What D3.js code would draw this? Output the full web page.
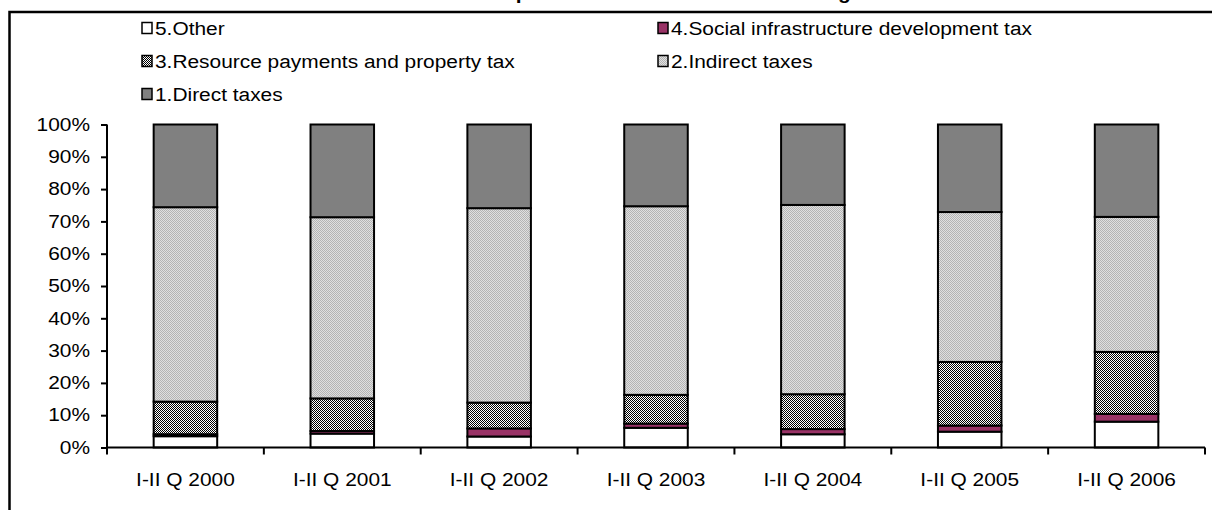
<!DOCTYPE html>
<html>
<head>
<meta charset="utf-8">
<script src="https://cdn.jsdelivr.net/npm/d3@7"></script>
<style>
  html, body { margin: 0; padding: 0; background: #fff; }
  svg { display: block; font-family: "Liberation Sans", Arial, sans-serif; }
</style>
</head>
<body>
<svg id="chart" width="1212" height="510"></svg>
<script>
// Periods on the x axis
const periods = ["I-II Q 2000", "I-II Q 2001", "I-II Q 2002", "I-II Q 2003", "I-II Q 2004", "I-II Q 2005", "I-II Q 2006"];

// Shares of tax revenue by type, percent (stacked bottom to top)
const otherTaxes     = [3.5, 4.3, 3.4, 6.1, 4.1, 4.9, 8.0];
const socialTax      = [0.6, 0.8, 2.5, 1.3, 1.6, 1.9, 2.4];
const resourceTax    = [10.1, 10.1, 8.0, 8.9, 10.8, 19.7, 19.2];
const indirectTaxes  = [60.2, 56.1, 60.2, 58.4, 58.6, 46.4, 41.8];
const directTaxes    = [25.6, 28.7, 25.9, 25.3, 24.9, 27.1, 28.6];

const seriesNames = [
  "5.Other",
  "4.Social infrastructure development tax",
  "3.Resource payments and property tax",
  "2.Indirect taxes",
  "1.Direct taxes"
];
const yTicks = [0, 10, 20, 30, 40, 50, 60, 70, 80, 90, 100];

const FONT_SIZE = 18;
const STRETCH = 1.16; // horizontally widened lettering

// Widen a text selection's glyphs by the STRETCH factor
function widen(sel) {
  sel.each(function () {
    const len = this.getComputedTextLength();
    d3.select(this).attr("textLength", len * STRETCH).attr("lengthAdjust", "spacingAndGlyphs");
  });
}

const svg = d3.select("#chart");

// Fill patterns
const defs = svg.append("defs");
const pRes = defs.append("pattern").attr("id", "pat-resource")
  .attr("patternUnits", "userSpaceOnUse").attr("width", 2).attr("height", 2);
pRes.append("rect").attr("width", 2).attr("height", 2).attr("fill", "#ffffff");
pRes.append("rect").attr("x", 0).attr("y", 0).attr("width", 1).attr("height", 1).attr("fill", "#000000");
pRes.append("rect").attr("x", 1).attr("y", 1).attr("width", 1).attr("height", 1).attr("fill", "#000000");

const pInd = defs.append("pattern").attr("id", "pat-indirect")
  .attr("patternUnits", "userSpaceOnUse").attr("width", 2).attr("height", 2);
pInd.append("rect").attr("width", 2).attr("height", 2).attr("fill", "#e0e0e0");
pInd.append("rect").attr("x", 0).attr("y", 0).attr("width", 1).attr("height", 1).attr("fill", "#b4b4b4");
pInd.append("rect").attr("x", 1).attr("y", 1).attr("width", 1).attr("height", 1).attr("fill", "#b4b4b4");

const fills = ["#ffffff", "#993366", "url(#pat-resource)", "url(#pat-indirect)", "#808080"];

// Chart title
svg.append("text")
  .attr("x", 608).attr("y", -1.5)
  .attr("text-anchor", "middle")
  .attr("font-size", 18).attr("font-weight", "bold")
  .text("Tax revenue composition of the consolidated budget")
  .call(widen);

// Outer frame
svg.append("rect")
  .attr("x", 9.5).attr("y", 12)
  .attr("width", 1230).attr("height", 520)
  .attr("fill", "none").attr("stroke", "#000").attr("stroke-width", 2.5);

// Scales
const x = d3.scaleBand().domain(periods).range([107, 1205]).paddingInner(0.595).paddingOuter(0.2975);
const y = d3.scaleLinear().domain([0, 100]).range([447.5, 124.5]);

// Stack
const rows = periods.map((p, i) => ({
  period: p,
  s0: otherTaxes[i], s1: socialTax[i], s2: resourceTax[i], s3: indirectTaxes[i], s4: directTaxes[i]
}));
const stack = d3.stack().keys(["s0", "s1", "s2", "s3", "s4"]);
const layers = stack(rows);

const gBars = svg.append("g");
layers.forEach((layer, li) => {
  gBars.selectAll(null).data(layer).enter().append("rect")
    .attr("x", d => x(d.data.period))
    .attr("y", d => y(d[1]))
    .attr("width", x.bandwidth())
    .attr("height", d => y(d[0]) - y(d[1]))
    .attr("fill", fills[li])
    .attr("stroke", "#000").attr("stroke-width", 2);
});

// Y axis
const yAxis = d3.axisLeft(y).tickValues(yTicks).tickFormat(d => d + "%").tickSize(6).tickPadding(11);
const gy = svg.append("g").attr("transform", "translate(107,0)").call(yAxis);
gy.select(".domain").attr("stroke-width", 2).attr("d", "M0,124.5V447.5");
gy.selectAll(".tick line").attr("stroke-width", 2);
gy.selectAll(".tick text").attr("font-size", FONT_SIZE).attr("fill", "#000")
  .attr("font-family", "'Liberation Sans', Arial, sans-serif")
  .call(widen);

// X axis: ticks between categories
const xAxisG = svg.append("g").attr("transform", "translate(0,447.5)");
xAxisG.append("line").attr("x1", 107).attr("x2", 1205).attr("y1", 0).attr("y2", 0)
  .attr("stroke", "#000").attr("stroke-width", 2);
const step = x.step();
const boundaries = d3.range(periods.length + 1).map(i => x(periods[0]) - x.paddingOuter() * step + i * step);
xAxisG.selectAll(".xt").data(boundaries).enter().append("line")
  .attr("x1", d => d).attr("x2", d => d).attr("y1", 0).attr("y2", 7)
  .attr("stroke", "#000").attr("stroke-width", 2);
xAxisG.selectAll(".xl").data(periods).enter().append("text")
  .attr("x", d => x(d) + x.bandwidth() / 2)
  .attr("y", 38)
  .attr("text-anchor", "middle")
  .attr("font-size", FONT_SIZE)
  .text(d => d)
  .call(widen);

// Legend
const legendItems = [
  { name: seriesNames[0], fill: fills[0], col: 0, row: 0 },
  { name: seriesNames[1], fill: fills[1], col: 1, row: 0 },
  { name: seriesNames[2], fill: fills[2], col: 0, row: 1 },
  { name: seriesNames[3], fill: fills[3], col: 1, row: 1 },
  { name: seriesNames[4], fill: fills[4], col: 0, row: 2 }
];
const colX = [142, 658];
const rowY = [28, 61, 94];
const gLeg = svg.append("g");
legendItems.forEach(it => {
  gLeg.append("rect")
    .attr("x", colX[it.col]).attr("y", rowY[it.row] - 5.5)
    .attr("width", 10).attr("height", 11)
    .attr("fill", it.fill).attr("stroke", "#000").attr("stroke-width", 1.5);
  gLeg.append("text")
    .attr("x", colX[it.col] + 13).attr("y", rowY[it.row] + 6.5)
    .attr("font-size", FONT_SIZE)
    .text(it.name)
    .call(widen);
});
</script>
</body>
</html>
